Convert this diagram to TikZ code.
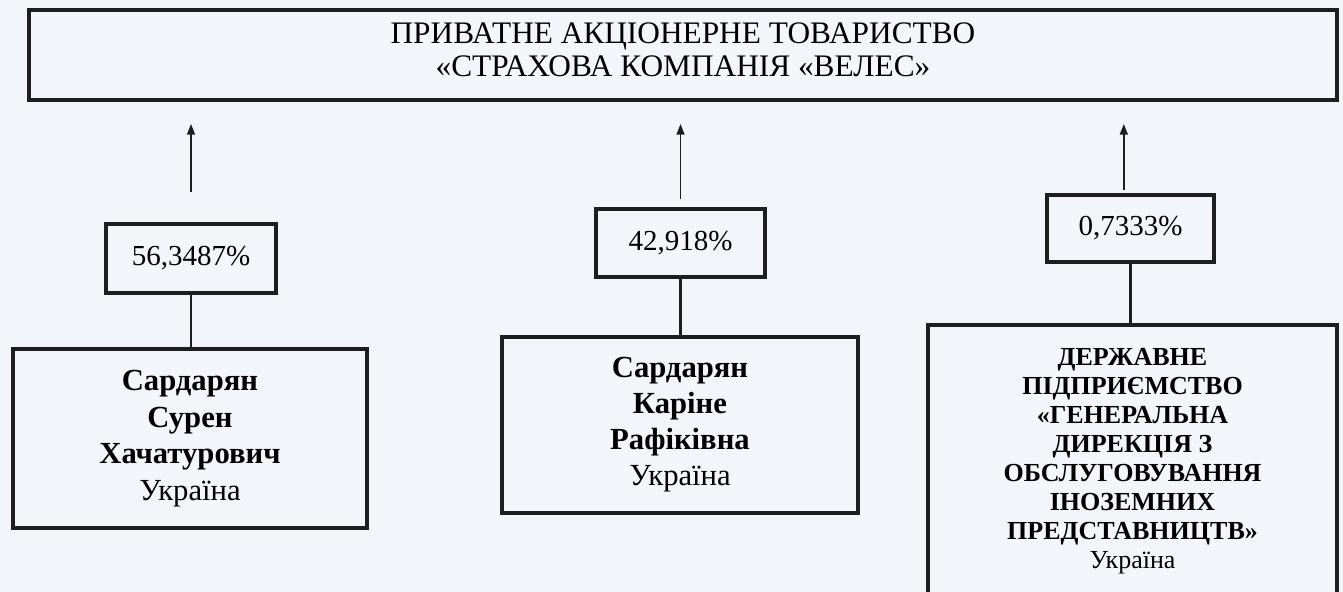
\documentclass[tikz,border=0pt]{standalone}
\usepackage{fontspec}
\setmainfont{Liberation Serif}
\usepackage{xcolor}
\definecolor{paper}{HTML}{F2F5FA}
\definecolor{ink}{HTML}{1E1E1E}
\usetikzlibrary{arrows.meta}

\begin{document}
\begin{tikzpicture}[x=0.75pt, y=-0.75pt,
    frame/.style={draw=ink, line width=3pt, rectangle, align=center, inner sep=0pt},
    share/.style={frame, font=\fontsize{21.75}{26}\selectfont},
    owner/.style={frame, font=\fontsize{23}{27.5}\selectfont\bfseries},
    link/.style={draw=ink, line width=2.2pt},
    stake/.style={draw=ink, line width=1.1pt, -{Triangle[length=8pt,width=6pt]}, shorten >=16.5pt}]
  % Background
  \fill [paper] (0, 0) rectangle (1343, 592);
  \useasboundingbox (0, 0) rectangle (1343, 592);

  % Company
  \node[frame, minimum width=981pt, minimum height=67.5pt] (veles) at (683, 55) {};
  \node[align=center, font=\fontsize{23.5}{24.5}\selectfont] (title) at (683, 50)
    {ПРИВАТНЕ АКЦІОНЕРНЕ ТОВАРИСТВО\\«СТРАХОВА КОМПАНІЯ «ВЕЛЕС»};

  % Shares
  \node[share, minimum width=127.5pt, minimum height=51.75pt] (share1) at (191, 258.5) {56,3487\%};
  \node[share, minimum width=126.75pt, minimum height=51pt] (share2) at (680.5, 243) {42,918\%};
  \node[share, minimum width=125.25pt, minimum height=50.25pt] (share3) at (1130.5, 228.5) {0,7333\%};

  % Owners
  \node[owner, minimum width=265.5pt, minimum height=134.25pt] (owner1) at (190, 438.5)
    {Сардарян\\Сурен\\Хачатурович\\\textmd{Україна}};
  \node[owner, minimum width=267pt, minimum height=132pt, font=\fontsize{23}{27}\selectfont\bfseries] (owner2) at (680, 425)
    {Сардарян\\Каріне\\Рафіківна\\\textmd{Україна}};
  \node[owner, minimum width=306.75pt, minimum height=204.75pt,
        font=\fontsize{19.5}{21.75}\selectfont\bfseries] (owner3) at (1132.5, 461.5)
    {ДЕРЖАВНЕ\\ПІДПРИЄМСТВО\\«ГЕНЕРАЛЬНА\\ДИРЕКЦІЯ З\\ОБСЛУГОВУВАННЯ\\ІНОЗЕМНИХ\\ПРЕДСТАВНИЦТВ»\\\textmd{Україна}};

  % Arrows to the company
  \draw[stake, shorten <=22.5pt] (share1.north) -- (share1.north |- veles.south);
  \draw[stake, shorten <=6pt] (share2.north) -- (share2.north |- veles.south);
  \draw[stake, shorten <=2.5pt] ([xshift=-5pt]share3.north) -- ([xshift=-5pt]share3.north |- veles.south);

  % Owners to shares
  \draw[link] (share1.south) -- (share1.south |- owner1.north);
  \draw[link] (share2.south) -- (share2.south |- owner2.north);
  \draw[link] (share3.south) -- (share3.south |- owner3.north);
\end{tikzpicture}
\end{document}
